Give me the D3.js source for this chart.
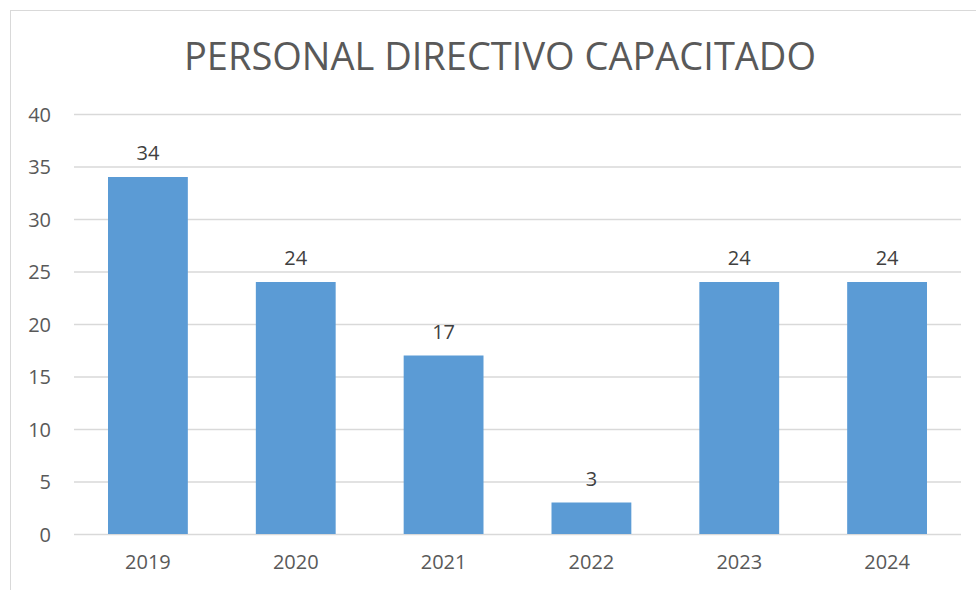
<!DOCTYPE html>
<html>
  <head>
    <meta charset="utf-8">
    <title>Personal directivo capacitado</title>
    <script src="https://cdn.jsdelivr.net/npm/d3@7"></script>
    <style>
      body { margin: 0; background: #fff; }
      svg text { font-family: "Open Sans", sans-serif; }
      .grid line { stroke: #d9d9d9; stroke-width: 1.3; }
      .grid .domain { display: none; }
      .axis .domain, .axis line { display: none; }
      .axis text { fill: #595959; font-size: 20px; }
      .label { fill: #404040; font-size: 20px; text-anchor: middle; }
      #title { fill: #595959; font-size: 38px; text-anchor: middle; }
    </style>
  </head>
  <body>
    <svg id="chart" width="976" height="590"></svg>

    <script>
      // data
      years = ["2019", "2020", "2021", "2022", "2023", "2024"];
      values = [34, 24, 17, 3, 24, 24];
      yTicks = [0, 5, 10, 15, 20, 25, 30, 35, 40];

      chart = d3.select("#chart");
      margin = { top: 114, right: 15, bottom: 56, left: 74 };
      width = 976;
      height = 590;

      // outer frame
      chart.append("rect")
        .attr("x", 10.5)
        .attr("y", 10.5)
        .attr("width", 985)
        .attr("height", 600)
        .attr("fill", "none")
        .attr("stroke", "#d9d9d9");

      chart.append("text")
        .attr("id", "title")
        .attr("x", 500)
        .attr("y", 70)
        .text("PERSONAL DIRECTIVO CAPACITADO");

      x = d3.scaleBand()
        .domain(years)
        .range([margin.left, width - margin.right])
        .paddingInner(0.46)
        .paddingOuter(0.23);

      y = d3.scaleLinear()
        .domain([0, 40])
        .range([height - margin.bottom, margin.top]);

      chart.append("g")
        .attr("class", "grid")
        .attr("transform", "translate(" + margin.left + ",0)")
        .call(d3.axisLeft(y)
          .tickValues(yTicks)
          .tickSize(-(width - margin.left - margin.right))
          .tickFormat(""));

      chart.append("g")
        .attr("class", "axis")
        .attr("transform", "translate(" + (margin.left - 23) + ",0)")
        .call(d3.axisLeft(y)
          .tickValues(yTicks)
          .tickSize(0)
          .tickPadding(0))
        .selectAll("text")
          .attr("dy", "0.35em");

      chart.append("g")
        .attr("class", "axis")
        .attr("transform", "translate(0," + (height - margin.bottom) + ")")
        .call(d3.axisBottom(x)
          .tickSize(0)
          .tickPadding(21));

      bars = chart.append("g")
        .selectAll("rect")
          .data(years)
        .enter().append("rect")
          .attr("x", d => x(d))
          .attr("width", x.bandwidth())
          .attr("y", (d, i) => y(values[i]))
          .attr("height", (d, i) => y(0) - y(values[i]))
          .attr("fill", "#5b9bd5");

      chart.append("g")
        .selectAll("text")
          .data(years)
        .enter().append("text")
          .attr("class", "label")
          .attr("x", d => x(d) + x.bandwidth() / 2)
          .attr("y", (d, i) => y(values[i]) - 17)
          .text((d, i) => values[i]);
    </script>
  </body>
</html>
